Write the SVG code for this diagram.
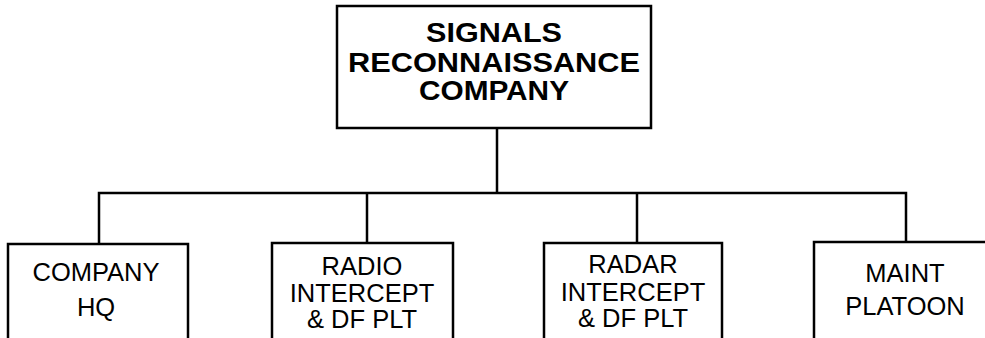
<svg xmlns="http://www.w3.org/2000/svg" width="985" height="338" viewBox="0 0 985 338">
<style>
.box{fill:#fff;stroke:#000;stroke-width:2.5}
.ln{fill:none;stroke:#000;stroke-width:2.5}
.t{font-family:"Liberation Sans",Arial,sans-serif;font-size:25.5px;fill:#000;text-anchor:middle}
.b{font-family:"Liberation Sans",Arial,sans-serif;font-size:27.5px;font-weight:bold;fill:#000;text-anchor:middle}
</style>
<rect width="985" height="338" fill="#fff"/>
<g id="connectors">
<path class="ln" d="M497,128 V193 M99,244 V193 H906 V242 M367,193 V243 M637,193 V243"/>
</g>
<g id="top">
<rect class="box" x="337" y="6" width="314" height="122"/>
<text class="b" x="494" y="42" textLength="136" lengthAdjust="spacingAndGlyphs">SIGNALS</text>
<text class="b" x="494" y="72" textLength="292" lengthAdjust="spacingAndGlyphs">RECONNAISSANCE</text>
<text class="b" x="494" y="100" textLength="150" lengthAdjust="spacingAndGlyphs">COMPANY</text>
</g>
<g id="hq">
<rect class="box" x="8" y="244" width="180" height="120"/>
<text class="t" x="96" y="281">COMPANY</text>
<text class="t" x="96" y="316">HQ</text>
</g>
<g id="radio">
<rect class="box" x="272" y="243" width="181" height="120"/>
<text class="t" x="362" y="275">RADIO</text>
<text class="t" x="362" y="302">INTERCEPT</text>
<text class="t" x="362" y="328">&amp; DF PLT</text>
</g>
<g id="radar">
<rect class="box" x="544" y="243" width="178" height="120"/>
<text class="t" x="633" y="273">RADAR</text>
<text class="t" x="633" y="301">INTERCEPT</text>
<text class="t" x="633" y="327">&amp; DF PLT</text>
</g>
<g id="maint">
<rect class="box" x="814" y="242" width="182" height="120"/>
<text class="t" x="905" y="282">MAINT</text>
<text class="t" x="905" y="315">PLATOON</text>
</g>
</svg>
